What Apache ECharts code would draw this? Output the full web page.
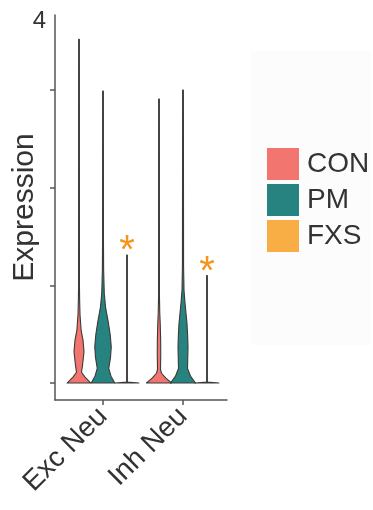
<!DOCTYPE html>
<html>
<head>
<meta charset="utf-8">
<script src="https://cdn.jsdelivr.net/npm/echarts@6/dist/echarts.min.js"></script>
<style>
  html, body { margin: 0; padding: 0; background: #ffffff; }
  #chart { width: 373px; height: 510px; }
</style>
</head>
<body>
<div id="chart"></div>
<script>
// Cell types on the x axis and genotype groups drawn side by side
const categories = ['Exc Neu', 'Inh Neu'];
const groups = ['CON', 'PM', 'FXS'];
const groupColors = ['#F2766F', '#26837F', '#F9AE45'];

// Violin profiles: [expression, relative density] from the base up to the maximum
const conExc = [[0, 0.95], [0.06, 0.48], [0.11, 0.2], [0.18, 0.28], [0.32, 0.4], [0.44, 0.32],
                [0.54, 0.17], [0.70, 0.08], [0.85, 0.05], [1.0, 0.035], [3.52, 0.03]];
const conInh = [[0, 1.0], [0.05, 0.55], [0.1, 0.2], [0.14, 0.12], [0.3, 0.14], [0.45, 0.13],
                [0.6, 0.1], [0.72, 0.06], [0.9, 0.035], [2.91, 0.03]];
const pmExc  = [[0, 0.94], [0.07, 0.64], [0.15, 0.46], [0.26, 0.6], [0.37, 0.66], [0.49, 0.58],
                [0.61, 0.44], [0.78, 0.2], [0.92, 0.1], [1.16, 0.05], [1.5, 0.035], [2.99, 0.03]];
const pmInh  = [[0, 1.0], [0.07, 0.6], [0.15, 0.36], [0.26, 0.38], [0.37, 0.4], [0.49, 0.37],
                [0.61, 0.32], [0.82, 0.16], [0.95, 0.08], [1.2, 0.045], [3.0, 0.03]];
const fxsExc = [[0, 0.95], [0.01, 0.03], [1.31, 0.03]];
const fxsInh = [[0, 0.95], [0.01, 0.03], [1.10, 0.03]];

// Significance marks above the FXS violins, one per cell type
const fxsMarks = ['*', '*'];

// Y axis ticks and the single label printed at the top
const yTicks = [0, 1, 2, 3];
const yTopLabel = '4';

const profiles = [[conExc, conInh], [pmExc, pmInh], [fxsExc, fxsInh]];

const Y_MIN = -0.174, Y_MAX = 3.77;
const DODGE = [-0.3, 0, 0.3];   // group offsets inside a category (x units)
const HALF = 12.5;              // px half-width for density 1
const FONT = '"Liberation Sans", Arial, Helvetica, sans-serif';

function makeRenderer(g) {
  return function (params, api) {
    const prof = profiles[g][params.dataIndex];
    const xc = api.value(0) + DODGE[g];
    const right = [], left = [];
    prof.forEach(function (p) {
      const c = api.coord([xc, p[0]]);
      const hw = p[1] * HALF;
      right.push([c[0] + hw, c[1]]);
      left.push([c[0] - hw, c[1]]);
    });
    const children = [{
      type: 'polygon',
      shape: { points: right.concat(left.reverse()) },
      style: { fill: groupColors[g], stroke: '#3a3a3a', lineWidth: 1.1, lineJoin: 'round' }
    }];
    if (g === 2) {
      const top = api.coord([xc, api.value(1)]);
      children.push({
        type: 'text',
        x: top[0], y: top[1] - 3,
        style: {
          text: fxsMarks[params.dataIndex], fill: '#F7941D',
          font: '40px ' + FONT, align: 'center', verticalAlign: 'middle'
        }
      });
    }
    return { type: 'group', children: children };
  };
}

const series = groups.map(function (name, g) {
  return {
    type: 'custom',
    name: name,
    coordinateSystem: 'cartesian2d',
    itemStyle: { color: groupColors[g] },
    renderItem: makeRenderer(g),
    encode: { x: 0, y: 1 },
    data: categories.map(function (c, i) {
      const prof = profiles[g][i];
      return [i + 1, prof[prof.length - 1][0]];
    }),
    silent: true
  };
});

const chart = echarts.init(document.getElementById('chart'), null, { renderer: 'canvas' });
chart.setOption({
  animation: false,
  backgroundColor: '#ffffff',
  textStyle: { fontFamily: FONT },
  graphic: [{
    type: 'rect', left: 251, top: 51, z: -10,
    shape: { width: 120, height: 294 },
    style: { fill: '#fdfcfd' }
  }],
  grid: { left: 55, right: 146, top: 15, bottom: 110, containLabel: false },
  legend: {
    orient: 'vertical', left: 267, top: 148, padding: 0,
    itemWidth: 32, itemHeight: 32, itemGap: 4,
    icon: 'rect',
    itemStyle: { borderWidth: 0 },
    textStyle: { fontSize: 28, color: '#333333', fontFamily: FONT, padding: [0, 0, 0, 3] },
    data: groups,
    selectedMode: false
  },
  xAxis: {
    type: 'value', min: 0.4, max: 2.55,
    splitLine: { show: false },
    axisLine: { show: true, onZero: false, lineStyle: { color: '#555555', width: 1.5 } },
    axisTick: { show: true, customValues: [1, 2], length: 5, lineStyle: { color: '#555555', width: 1.5 } },
    axisLabel: {
      customValues: [1, 2], rotate: 45, margin: 12,
      fontSize: 28, color: '#333333', fontFamily: FONT,
      formatter: function (v) { return categories[Math.round(v) - 1]; }
    }
  },
  yAxis: {
    type: 'value', min: Y_MIN, max: Y_MAX,
    name: 'Expression', nameLocation: 'middle', nameGap: 15, nameMoveOverlap: false,
    nameTextStyle: { fontSize: 30, color: '#333333', fontFamily: FONT },
    splitLine: { show: false },
    axisLine: { show: true, onZero: false, lineStyle: { color: '#555555', width: 1.5 } },
    axisTick: { show: true, customValues: yTicks, length: 5, lineStyle: { color: '#555555', width: 1.5 } },
    axisLabel: {
      customValues: [Y_MAX - 0.07], margin: 9,
      fontSize: 24, color: '#333333', fontFamily: FONT,
      formatter: function () { return yTopLabel; }
    }
  },
  series: series
});
</script>
</body>
</html>
